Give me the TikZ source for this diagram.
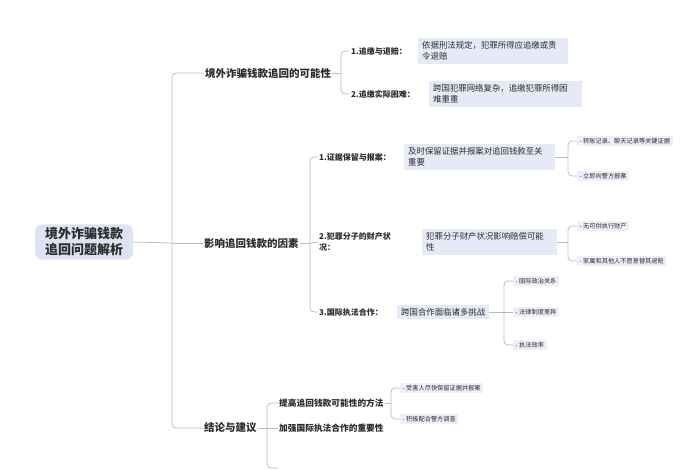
\documentclass[tikz,border=0pt]{standalone}
\usepackage{fontspec}
\setmainfont{Noto Sans CJK SC}
\definecolor{txt}{HTML}{2B2B2B}
\definecolor{linegray}{HTML}{BDBDBD}
\definecolor{rootfill}{HTML}{DDE3F3}
\definecolor{leaffill}{HTML}{E6EAF7}
\definecolor{itemfill}{HTML}{EDF0F9}
\tikzset{
  conn/.style={draw=linegray, line width=0.8pt, rounded corners=4pt},
  rootbox/.style={fill=rootfill, rounded corners=7pt, font=\fontsize{13}{16}\selectfont\bfseries, align=center, minimum width=98pt, minimum height=35pt, text=txt},
  lone/.style={anchor=west, inner sep=1pt, font=\fontsize{10.5}{12}\selectfont\bfseries, text=txt},
  ltwo/.style={anchor=west, inner sep=1pt, font=\fontsize{8}{10.5}\selectfont\bfseries, align=left, text=txt},
  lthree/.style={anchor=west, inner sep=1pt, font=\fontsize{8.7}{10.5}\selectfont\bfseries, text=txt},
  leafbox/.style={anchor=west, fill=leaffill, inner xsep=4pt, inner ysep=3.5pt, font=\fontsize{8.4}{11}\selectfont, align=left, text=txt},
  itembox/.style={anchor=west, fill=itemfill, inner xsep=2.5pt, inner ysep=2.5pt, font=\fontsize{6.2}{7}\selectfont, text=txt},
}
\begin{document}
\begin{tikzpicture}[x=1pt,y=-1pt]
\useasboundingbox[fill=white] (0,0) rectangle (700,470);

% root
\node[rootbox] (root) at (84,242) {境外诈骗钱款\\追回问题解析};

% level 1
\node[lone] (la) at (204,73) {境外诈骗钱款追回的可能性};
\node[lone] (lb) at (203,243) {影响追回钱款的因素};
\node[lone] (lc) at (203,428) {结论与建议};

\coordinate (t0) at (172,243);
\draw[conn] (root.east) -- (t0);
\draw[conn] (t0) |- (la.west);
\draw[conn] (t0) -- (lb.west);
\draw[conn] (t0) |- (lc.west);

% branch a
\node[ltwo] (a1) at (350,51) {1.追缴与退赔：};
\node[ltwo] (a2) at (350,94) {2.追缴实际困难：};
\coordinate (ta) at (341,73);
\draw[conn] (la.east) -- (ta);
\draw[conn] (ta) |- (a1.west);
\draw[conn] (ta) |- (a2.west);
\node[leafbox, text width=142pt] (la1) at (418,51) {依据刑法规定，犯罪所得应追缴或责\\令退赔};
\node[leafbox, text width=145pt] (la2) at (429,94) {跨国犯罪网络复杂，追缴犯罪所得困\\难重重};

% branch b
\node[ltwo] (b1) at (318,157) {1.证据保留与报案：};
\node[ltwo] (b2) at (318,242) {2.犯罪分子的财产状\\况：};
\node[ltwo] (b3) at (318,312) {3.国际执法合作：};
\coordinate (tb) at (310,243);
\draw[conn] (lb.east) -- (tb);
\draw[conn] (tb) |- (b1.west);
\draw[conn] (tb) -- (b2.west);
\draw[conn] (tb) |- (b3.west);
\node[leafbox, text width=143pt] (lb1) at (404,157) {及时保留证据并报案对追回钱款至关\\重要};
\node[leafbox, text width=127pt] (lb2) at (422,242) {犯罪分子财产状况影响赔偿可能\\性};
\node[leafbox] (lb3) at (397,312) {跨国合作面临诸多挑战};

% items of lb1
\node[itembox] (c11) at (577,141) {- 转账记录、聊天记录等关键证据};
\node[itembox] (c12) at (577,176) {- 立即向警方报案};
\coordinate (tc1) at (568,157);
\draw[conn] (lb1.east) -- (tc1);
\draw[conn] (tc1) |- (c11.west);
\draw[conn] (tc1) |- (c12.west);

% items of lb2
\node[itembox] (c21) at (577,226) {- 无可供执行财产};
\node[itembox] (c22) at (577,261) {- 家属和其他人不愿意替其退赃};
\coordinate (tc2) at (568,242);
\draw[conn] (lb2.east) -- (tc2);
\draw[conn] (tc2) |- (c21.west);
\draw[conn] (tc2) |- (c22.west);

% items of lb3
\node[itembox] (c31) at (513,281) {- 国际政治关系};
\node[itembox] (c32) at (513,312) {- 法律制度差异};
\node[itembox] (c33) at (513,345) {- 执法效率};
\coordinate (tc3) at (504,312);
\draw[conn] (lb3.east) -- (tc3);
\draw[conn] (tc3) |- (c31.west);
\draw[conn] (tc3) -- (c32.west);
\draw[conn] (tc3) |- (c33.west);

% branch c
\node[lthree] (d1) at (278,403) {提高追回钱款可能性的方法};
\node[lthree] (d2) at (278,428) {加强国际执法合作的重要性};
\coordinate (td) at (267,428);
\coordinate (d3) at (278,468);
\draw[conn] (lc.east) -- (td);
\draw[conn] (td) |- (d1.west);
\draw[conn] (td) -- (d2.west);
\draw[conn] (td) |- (d3);

\node[itembox] (e1) at (400,388) {- 受害人尽快保留证据并报案};
\node[itembox] (e2) at (400,419) {- 积极配合警方调查};
\coordinate (te) at (391,403);
\draw[conn] (d1.east) -- (te);
\draw[conn] (te) |- (e1.west);
\draw[conn] (te) |- (e2.west);
\end{tikzpicture}
\end{document}
